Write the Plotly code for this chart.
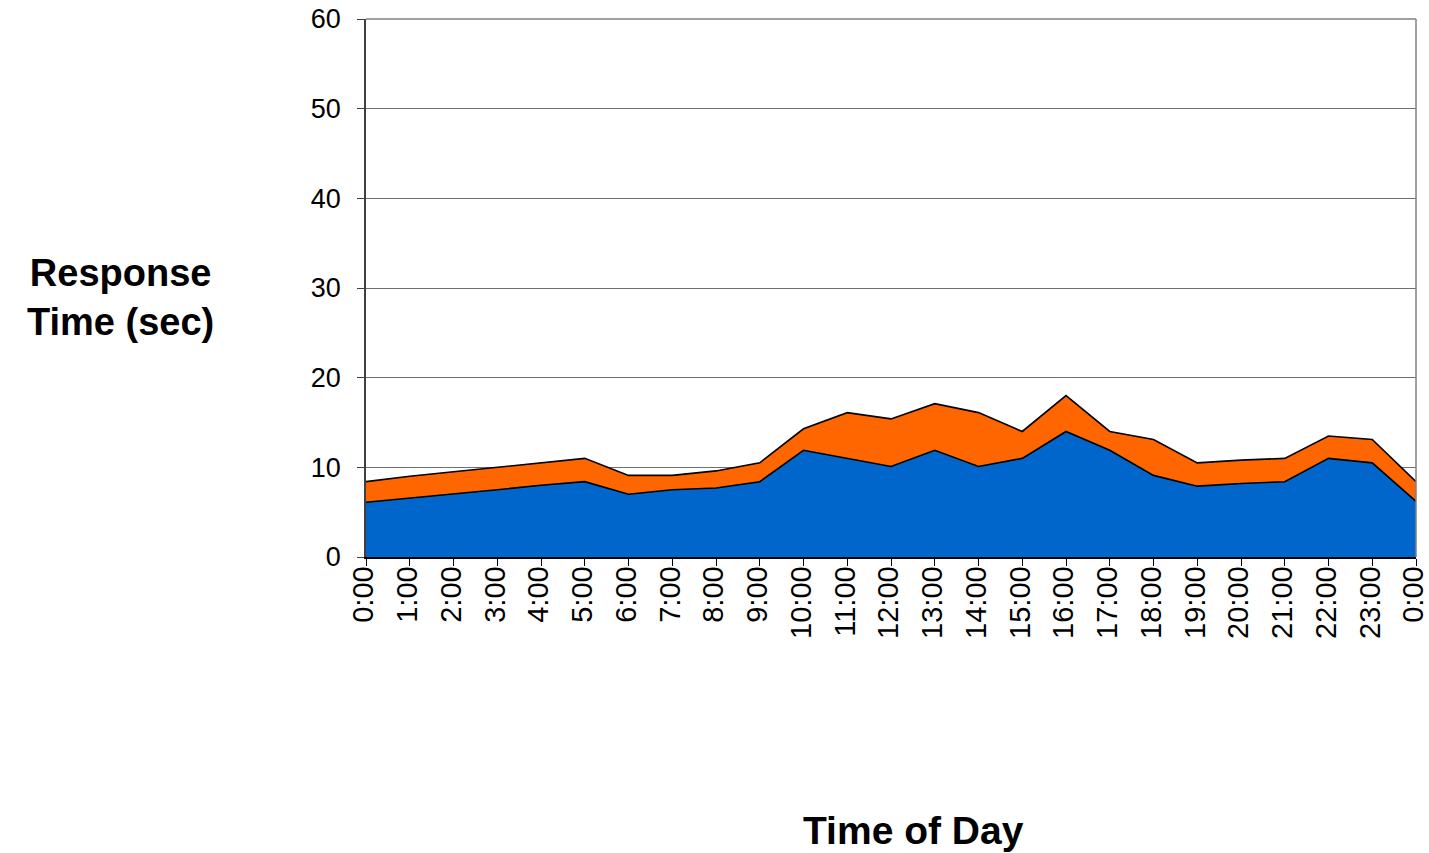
import plotly.graph_objects as go

hours = ["0:00", "1:00", "2:00", "3:00", "4:00", "5:00", "6:00", "7:00", "8:00", "9:00",
         "10:00", "11:00", "12:00", "13:00", "14:00", "15:00", "16:00", "17:00", "18:00",
         "19:00", "20:00", "21:00", "22:00", "23:00", "0:00"]
positions = list(range(len(hours)))

base_time = [6.1, 6.55, 7.0, 7.5, 8.0, 8.4, 7.0, 7.5, 7.7, 8.4,
             11.9, 11.0, 10.1, 11.9, 10.1, 11.0, 14.0, 11.9, 9.1,
             7.9, 8.2, 8.4, 11.0, 10.5, 6.2]
extra_time = [2.3, 2.45, 2.5, 2.5, 2.5, 2.6, 2.1, 1.6, 1.9, 2.1,
              2.4, 5.1, 5.3, 5.2, 6.0, 3.0, 4.0, 2.1, 4.0,
              2.6, 2.6, 2.6, 2.5, 2.6, 2.2]
y_ticks = [0, 10, 20, 30, 40, 50, 60]

FONT = "Liberation Sans, Arial, sans-serif"

fig = go.Figure()
fig.add_trace(go.Scatter(x=positions, y=base_time, stackgroup="s", mode="lines",
                         line=dict(color="black", width=1.6), fillcolor="#0066CC",
                         name="Base", hoverinfo="skip"))
fig.add_trace(go.Scatter(x=positions, y=extra_time, stackgroup="s", mode="lines",
                         line=dict(color="black", width=1.6), fillcolor="#FF6600",
                         name="Extra", hoverinfo="skip"))

fig.update_layout(
    width=1429, height=853,
    margin=dict(l=366, r=13, t=19, b=296, autoexpand=False),
    paper_bgcolor="white", plot_bgcolor="white",
    showlegend=False,
    font=dict(family=FONT, color="black"),
    xaxis=dict(range=[0, 24], tickmode="array", tickvals=positions, ticktext=hours,
               tickangle=-90, ticks="outside", ticklen=7, tickcolor="black",
               showgrid=False, zeroline=False, showline=True, linecolor="black",
               linewidth=1.5, automargin=False, ticklabelstandoff=-11,
               ticklabeloverflow="allow", ticklabelshift=-2,
               tickfont=dict(size=29, family=FONT)),
    yaxis=dict(range=[0, 60], tickmode="array", tickvals=y_ticks,
               ticks="outside", ticklen=7, tickcolor="#404040",
               showgrid=True, gridcolor="#6f6f6f", gridwidth=1,
               zeroline=False, showline=True, linecolor="#404040", linewidth=1.5,
               automargin=False, ticklabelstandoff=11,
               tickfont=dict(size=27, family=FONT)),
    shapes=[
        dict(type="line", xref="paper", yref="paper", x0=0, x1=1, y0=1, y1=1,
             line=dict(color="#808080", width=1.5)),
        dict(type="line", xref="paper", yref="paper", x0=1, x1=1, y0=0, y1=1,
             line=dict(color="#808080", width=1.5)),
    ],
    annotations=[
        dict(text="<b>Response<br>Time (sec)</b>", xref="paper", yref="paper",
             x=(120 - 366) / 1050, y=(557 - 297) / 538, xanchor="center", yanchor="middle",
             showarrow=False, align="center", font=dict(size=38, family=FONT)),
        dict(text="<b>Time of Day</b>", xref="paper", yref="paper",
             x=(913 - 366) / 1050, y=(557 - 830) / 538, xanchor="center", yanchor="middle",
             showarrow=False, font=dict(size=39, family=FONT)),
    ],
)

fig.write_html("out.html", config={"displayModeBar": False},
               post_script="document.body.style.margin='0';document.body.style.overflow='hidden';")
